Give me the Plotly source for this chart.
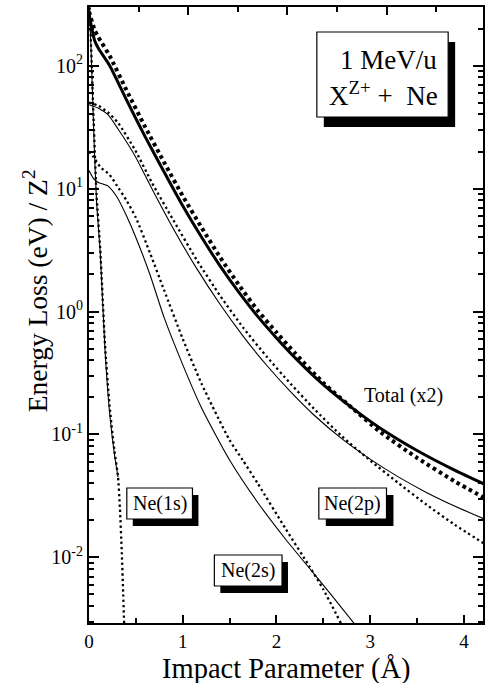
import plotly.graph_objects as go

# ---------------- data ----------------
# Ne(1s)
x_1s_calc = [0.0, 0.02, 0.05, 0.08, 0.12, 0.17, 0.22, 0.27, 0.31]
y_1s_calc = [400, 150, 30, 8, 3.0, 0.5, 0.15, 0.07, 0.045]
x_1s_model = [0.0, 0.02, 0.05, 0.08, 0.12, 0.17, 0.22, 0.27, 0.31, 0.33, 0.35, 0.365, 0.375]
y_1s_model = [400, 160, 35, 9, 3.2, 0.55, 0.17, 0.075, 0.045, 0.025, 0.011, 0.005, 0.0029]

# Ne(2s)
x_2s_calc = [0.0, 0.05, 0.1, 0.2, 0.3, 0.4, 0.5, 0.65, 0.8, 1.0, 1.2, 1.5, 1.8, 2.1, 2.38, 2.6, 2.83]
y_2s_calc = [14, 12, 11.2, 10.5, 8.5, 6.0, 4.0, 2.0, 0.9, 0.37, 0.165, 0.062, 0.028, 0.014, 0.0077, 0.0048, 0.0029]
x_2s_model = [0.0, 0.05, 0.12, 0.22, 0.3, 0.4, 0.5, 0.65, 0.8, 1.0, 1.2, 1.5, 1.64, 1.8, 2.1, 2.35, 2.5, 2.69]
y_2s_model = [20, 18, 15, 12.9, 10.5, 8.0, 5.8, 3.0, 1.5, 0.6, 0.26, 0.09, 0.062, 0.04, 0.017, 0.0085, 0.0055, 0.0029]

# Ne(2p)
x_2p_calc = [0.0, 0.1, 0.2, 0.31, 0.49, 0.67, 0.9, 1.15, 1.4, 1.65, 1.9, 2.15, 2.4, 2.7, 3.0, 3.3, 3.6, 3.9, 4.22]
y_2p_calc = [48, 45, 40, 30.5, 18.5, 10, 4.71, 2.23, 1.14, 0.622, 0.362, 0.223, 0.144, 0.092, 0.063, 0.0452,
             0.0338, 0.0262, 0.0205]
x_2p_model = [0.0, 0.1, 0.2, 0.31, 0.49, 0.67, 0.9, 1.15, 1.4, 1.65, 1.9, 2.15, 2.4, 2.7, 3.0, 3.3, 3.6, 3.9, 4.22]
y_2p_model = [50, 47.1, 41.7, 34.2, 20.7, 11.2, 5.53, 2.62, 1.34, 0.731, 0.426, 0.259, 0.162, 0.0964, 0.0615,
              0.0403, 0.0269, 0.0185, 0.0129]

# Total (x2)
x_tot_calc = [0.0, 0.03, 0.06, 0.1, 0.22, 0.4, 0.6, 0.8, 1.0, 1.2, 1.4, 1.6, 1.8, 2.0, 2.2, 2.5, 2.8, 3.1, 3.5, 3.9, 4.22]
y_tot_calc = [265, 200, 160, 138, 100, 52.5, 26.3, 13.7, 7.24, 4.03, 2.34, 1.43, 0.912, 0.61, 0.42, 0.254,
              0.166, 0.1135, 0.0741, 0.0513, 0.0394]
x_tot_model = [0.0, 0.06, 0.1, 0.22, 0.4, 0.6, 0.8, 1.0, 1.2, 1.4, 1.6, 1.8, 2.0, 2.2, 2.5, 2.8, 3.1, 3.5, 3.9, 4.22]
y_tot_model = [275, 195, 170, 120, 63, 31.6, 16.4, 8.7, 4.84, 2.75, 1.64, 1.02, 0.676, 0.457, 0.263,
               0.166, 0.106, 0.0646, 0.0417, 0.0305]

# axes ticks
x_tickvals = [0, 1, 2, 3, 4]
x_ticktext = ["0", "1", "2", "3", "4"]
y_tickvals = [0.01, 0.1, 1, 10, 100]
y_ticktext = ["10<sup>-2</sup>", "10<sup>-1</sup>", "10<sup>0</sup>", "10<sup>1</sup>", "10<sup>2</sup>"]

BOHR = 0.529177
X_MAX = 4.204
Y_MIN, Y_MAX = -2.533, 2.476  # log10 range

FONT = "Liberation Serif, Times New Roman, serif"

# ---------------- figure ----------------
W, H = 485, 683
ML, MR, MT, MB = 89, 0, 7, 60
PW, PH = W - ML - MR, H - MT - MB


def px(xp):
    return (xp - ML) / PW


def py(yp):
    return (H - MB - yp) / PH


fig = go.Figure()

thin_solid = dict(color="black", width=1.1, shape="spline", smoothing=0.6)
thin_dot = dict(color="black", width=2.3, dash="2.3px,3px", shape="spline", smoothing=0.6)
thick_solid = dict(color="black", width=3, shape="spline", smoothing=0.6)
thick_dot = dict(color="black", width=4, dash="3.5px,3.5px", shape="spline", smoothing=0.6)

series = [
    (x_1s_calc, y_1s_calc, thin_solid),
    (x_1s_model, y_1s_model, thin_dot),
    (x_2s_calc, y_2s_calc, thin_solid),
    (x_2s_model, y_2s_model, thin_dot),
    (x_2p_calc, y_2p_calc, thin_solid),
    (x_2p_model, y_2p_model, thin_dot),
    (x_tot_calc, y_tot_calc, thick_solid),
    (x_tot_model, y_tot_model, thick_dot),
]
for xs, ys, ln in series:
    fig.add_trace(go.Scatter(x=xs, y=ys, mode="lines", line=ln, showlegend=False, hoverinfo="skip"))

# invisible trace for top axis (bohr)
fig.add_trace(go.Scatter(x=[0], y=[1], xaxis="x2", mode="markers", marker=dict(opacity=0),
                         showlegend=False, hoverinfo="skip"))

shapes = []
annotations = []


def label_box(x0, y0, x1, y1, sdx, sdy, text, size):
    shapes.append(dict(type="rect", xref="paper", yref="paper",
                       x0=px(x0 + sdx), x1=px(x1 + sdx), y0=py(y1 + sdy), y1=py(y0 + sdy),
                       fillcolor="black", line=dict(width=0), layer="above"))
    shapes.append(dict(type="rect", xref="paper", yref="paper",
                       x0=px(x0), x1=px(x1), y0=py(y1), y1=py(y0),
                       fillcolor="white", line=dict(color="black", width=1.2), layer="above"))
    if text:
        annotations.append(dict(xref="paper", yref="paper", x=px((x0 + x1) / 2), y=py((y0 + y1) / 2),
                                text=text, showarrow=False, xanchor="center", yanchor="middle",
                                font=dict(family=FONT, size=size, color="black")))


label_box(127, 488, 193, 519, 6, 7, "Ne(1s)", 20)
label_box(320, 488, 388, 519, 7, 7, "Ne(2p)", 20)
label_box(215, 555, 283, 586, 6, 7, "Ne(2s)", 20)
label_box(318, 32, 450, 117, 7, 10, None, 27)

annotations.append(dict(xref="paper", yref="paper", x=px(441), y=py(60), text="1 MeV/u",
                        showarrow=False, xanchor="right", yanchor="middle",
                        font=dict(family=FONT, size=27, color="black")))
annotations.append(dict(xref="paper", yref="paper", x=px(442), y=py(94),
                        text="X<sup>Z+</sup> +&nbsp; Ne",
                        showarrow=False, xanchor="right", yanchor="middle",
                        font=dict(family=FONT, size=27, color="black")))
annotations.append(dict(xref="paper", yref="paper", x=px(405), y=py(395), text="Total (x2)",
                        showarrow=False, xanchor="center", yanchor="middle",
                        font=dict(family=FONT, size=20, color="black")))

# axis titles
annotations.append(dict(xref="paper", yref="paper", x=px(287), y=py(669), text="Impact Parameter (Å)",
                        showarrow=False, xanchor="center", yanchor="middle",
                        font=dict(family=FONT, size=28.5, color="black")))
annotations.append(dict(xref="paper", yref="paper", x=px(35), y=py(291),
                        text="Energy Loss (eV) / Z<sup>2</sup>", textangle=-90,
                        showarrow=False, xanchor="center", yanchor="middle",
                        font=dict(family=FONT, size=27.5, color="black")))

fig.update_layout(
    width=W, height=H,
    margin=dict(l=ML, r=MR, t=MT, b=MB, pad=0),
    paper_bgcolor="white", plot_bgcolor="white",
    shapes=shapes, annotations=annotations,
    xaxis=dict(range=[0, X_MAX], tickvals=x_tickvals, ticktext=x_ticktext,
               ticks="inside", ticklen=8, tickwidth=2, tickcolor="black",
               minor=dict(dtick=0.5, tick0=0, ticks="inside", ticklen=5, tickwidth=2, tickcolor="black"),
               showline=True, linecolor="black", linewidth=2.2, mirror=True,
               showgrid=False, zeroline=False,
               tickfont=dict(family=FONT, size=19, color="black")),
    xaxis2=dict(range=[0, X_MAX / BOHR], overlaying="x", side="top", anchor="y",
                dtick=2, tick0=0, ticks="inside", ticklen=8, tickwidth=2, tickcolor="black",
                minor=dict(dtick=1, tick0=0, ticks="inside", ticklen=5, tickwidth=2, tickcolor="black"),
                showticklabels=False, showgrid=False, zeroline=False, showline=False),
    yaxis=dict(type="log", range=[Y_MIN, Y_MAX], tickvals=y_tickvals, ticktext=y_ticktext,
               ticks="inside", ticklen=10, tickwidth=2, tickcolor="black",
               minor=dict(dtick="D1", ticks="inside", ticklen=5, tickwidth=2, tickcolor="black"),
               showline=True, linecolor="black", linewidth=2.2, mirror="ticks",
               showgrid=False, zeroline=False,
               tickfont=dict(family=FONT, size=20, color="black")),
)

fig.write_html("out.html", config={"displayModeBar": False},
               post_script="document.body.style.margin='0px';document.body.style.overflow='hidden';")
